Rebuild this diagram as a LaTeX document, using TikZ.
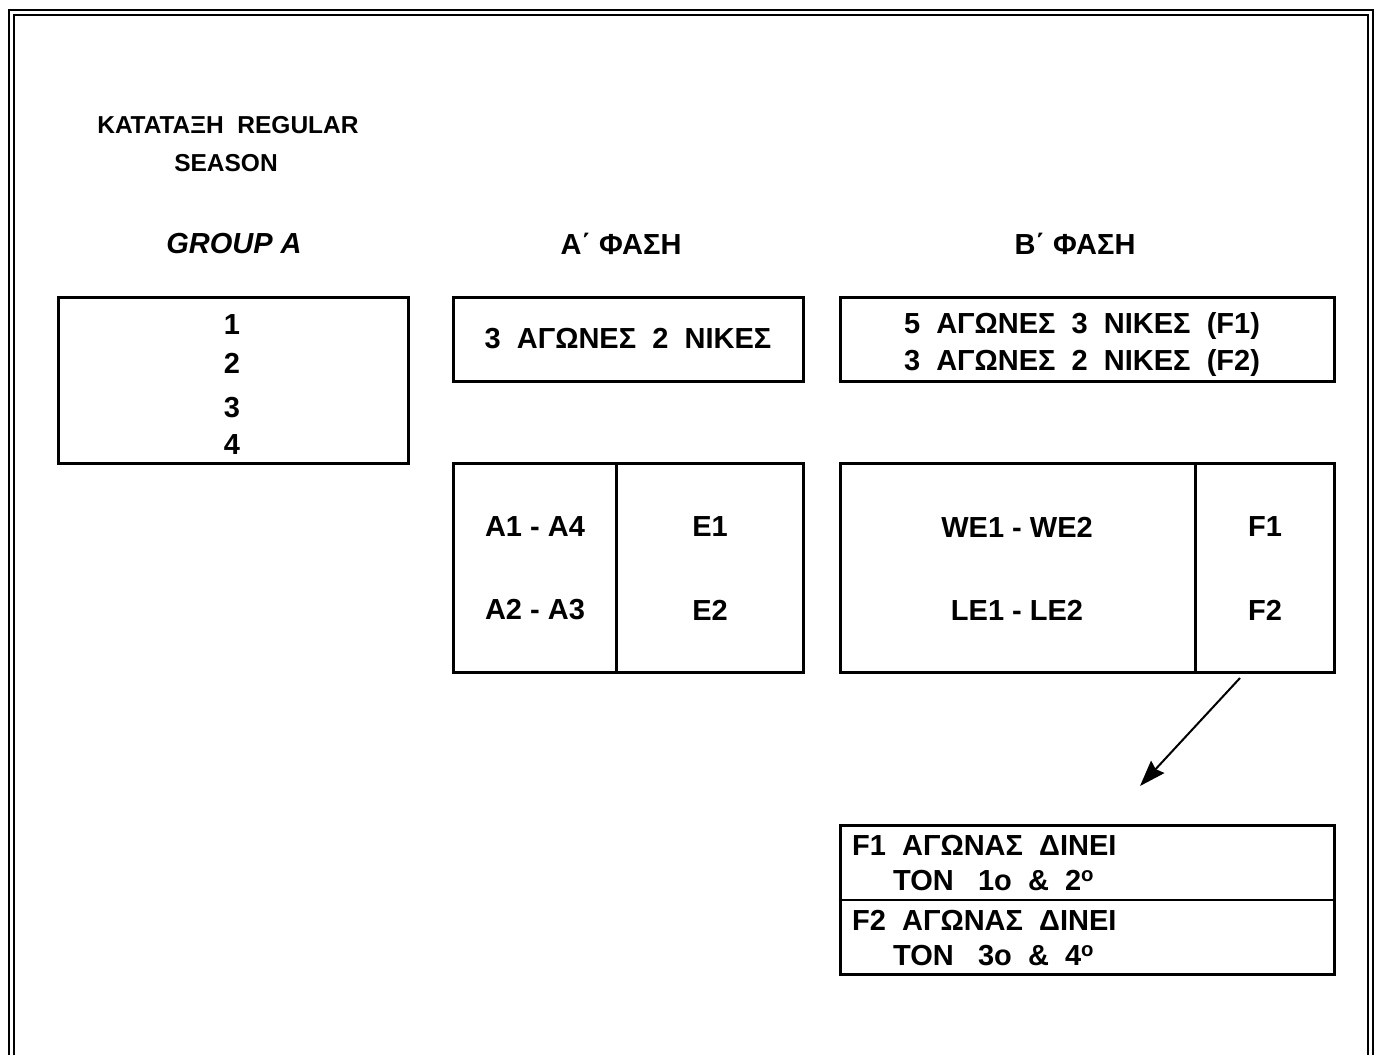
\documentclass[tikz,border=0pt]{standalone}
\usepackage{fontspec}
\setmainfont{Liberation Sans}
\usetikzlibrary{positioning, calc, arrows.meta}

\begin{document}
\begin{tikzpicture}[x=1pt, y=-1pt,
    box/.style={draw, line width=3pt, inner sep=0pt},
    lbl/.style={font=\fontsize{29}{35}\selectfont\bfseries, inner sep=0pt},
    head/.style={font=\fontsize{24.5}{29}\selectfont\bfseries, inner sep=0pt},
    >={Stealth[length=26pt, width=18pt, inset=3pt]}]

  \useasboundingbox (0,0) rectangle (1378,1055);
  % double frame, open at the bottom
  \draw[line width=2.5pt] (9,1055) -- (9,10) -- (1373,10) -- (1373,1055);
  \draw[line width=2.5pt] (14,1055) -- (14,15) -- (1368,15) -- (1368,1055);

  \node[head] (title) at (228,125) {ΚΑΤΑΤΑΞΗ~~REGULAR};
  \node[head] (season) at (226,163) {SEASON};

  \node[lbl, font=\fontsize{29}{35}\selectfont\bfseries\itshape] (grouphd) at (234,244) {GROUP A};
  \node[lbl] (phaseA) at (621,244) {Α΄ ΦΑΣΗ};
  \node[lbl] (phaseB) at (1075,244) {Β΄ ΦΑΣΗ};

  % group ranking
  \node[box, minimum width=350, minimum height=166] (grp) at (233,380) {};
  \node[lbl] (g1) at (232,325) {1};
  \node[lbl] (g2) at (232,363) {2};
  \node[lbl] (g3) at (232,408) {3};
  \node[lbl] (g4) at (232,445) {4};

  % series format
  \node[box, minimum width=350, minimum height=84] (fmtA) at (628,339) {};
  \node[lbl] at (fmtA) {3~~ΑΓΩΝΕΣ~~2~~ΝΙΚΕΣ};
  \node[box, minimum width=494, minimum height=84] (fmtB) at (1087,339) {};
  \node[lbl] (fmtB1) at (1082,326) {5~~ΑΓΩΝΕΣ~~3~~ΝΙΚΕΣ~~(F1)};
  \node[lbl] (fmtB2) at (1082,363) {3~~ΑΓΩΝΕΣ~~2~~ΝΙΚΕΣ~~(F2)};

  % pairings
  \node[box, minimum width=350, minimum height=209] (pairA) at (628,568) {};
  \coordinate (divA) at (616,0);
  \draw[line width=3pt] (pairA.north -| divA) -- (pairA.south -| divA);
  \node[lbl] (a14) at (535,527) {A1 - A4};
  \node[lbl] (a23) at (535,610) {A2 - A3};
  \node[lbl] (e1) at (710,527) {E1};
  \node[lbl] (e2) at (710,610) {E2};

  \node[box, minimum width=494, minimum height=209] (pairB) at (1087,568) {};
  \coordinate (divB) at (1195,0);
  \draw[line width=3pt] (pairB.north -| divB) -- (pairB.south -| divB);
  \node[lbl] (we) at (1017,527) {WE1 - WE2};
  \node[lbl] (le) at (1017,610) {LE1 - LE2};
  \node[lbl] (f1) at (1265,527) {F1};
  \node[lbl] (f2) at (1265,610) {F2};

  % final places
  \node[box, minimum width=494, minimum height=149] (final) at (1087,900) {};
  \draw[line width=2.5pt] (final.west) -- (final.east);
  \node[lbl, anchor=west] (fin1) at (852,845) {F1~~ΑΓΩΝΑΣ~~ΔΙΝΕΙ};
  \node[lbl, anchor=west] (fin2) at (893,881) {ΤΟΝ~~~1ο~~\&~~2\textsuperscript{o}};
  \node[lbl, anchor=west] (fin3) at (852,920) {F2~~ΑΓΩΝΑΣ~~ΔΙΝΕΙ};
  \node[lbl, anchor=west] (fin4) at (893,956) {ΤΟΝ~~~3ο~~\&~~4\textsuperscript{o}};

  \coordinate (arrfrom) at (1240,678);
  \coordinate (arrto) at (1140,786);
  \draw[->, line width=2pt] (arrfrom) -- (arrto);
\end{tikzpicture}
\end{document}
